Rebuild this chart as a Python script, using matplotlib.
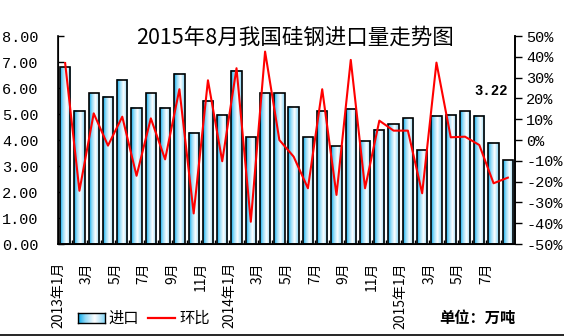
import numpy as np
import matplotlib
matplotlib.use("Agg")
import matplotlib.pyplot as plt
from matplotlib.colors import LinearSegmentedColormap
from matplotlib.lines import Line2D

plt.rcParams['font.family'] = ['Noto Sans CJK SC', 'DejaVu Sans']
plt.rcParams['axes.unicode_minus'] = False

months = ['2013年1月', '', '3月', '', '5月', '', '7月', '', '9月', '', '11月', '',
          '2014年1月', '', '3月', '', '5月', '', '7月', '', '9月', '', '11月', '',
          '2015年1月', '', '3月', '', '5月', '', '7月', '']
imports = [6.80, 5.12, 5.80, 5.66, 6.32, 5.24, 5.80, 5.24, 6.55, 4.28, 5.51, 4.97,
           6.66, 4.10, 5.80, 5.80, 5.28, 4.10, 5.10, 3.76, 5.21, 3.97, 4.40, 4.60,
           4.83, 3.60, 4.94, 4.98, 5.10, 4.94, 3.90, 3.22]
mom = [37.0, -24.4, 12.8, -2.7, 11.2, -17.2, 10.4, -9.3, 24.4, -35.3, 28.7, -10.2,
       34.5, -39.3, 42.5, 0.0, -8.0, -23.2, 24.4, -26.4, 38.5, -23.2, 9.3, 4.5,
       4.5, -25.6, 37.2, 1.3, 1.6, -2.4, -20.8, -18.1]

grad = LinearSegmentedColormap.from_list(
    'g', [(0, '#05a8ea'), (0.25, '#8fd8f6'), (0.6, '#ffffff'), (1.0, '#7ed2f5')])
gimg = np.linspace(0, 1, 64).reshape(1, -1)

fig = plt.figure(figsize=(5.64, 3.36), dpi=100)
ax = fig.add_axes([58/564, 1-244/336, 457/564, 208/336])
x = np.arange(len(imports))
w = 0.72

bars = ax.bar(x, imports, width=w, facecolor='none', edgecolor='black',
              linewidth=1.2, zorder=3)
for xi, h in zip(x, imports):
    ax.imshow(gimg, cmap=grad, extent=[xi - w/2, xi + w/2, 0, h],
              aspect='auto', zorder=2, interpolation='bilinear')

ax.set_xlim(-0.5, len(imports) - 0.5)
ax.set_ylim(0, 8)
ax.set_yticks(np.arange(0, 9, 1))
ax.set_yticklabels(['%.2f' % v for v in np.arange(0, 9, 1)],
                   family='Liberation Mono', fontsize=11)
ax.tick_params(axis='y', direction='in', length=4, pad=14, width=1)
ax.set_xticks(x - 0.5)
ax.set_xticklabels(months, rotation=90, fontsize=10)
ax.tick_params(axis='x', direction='in', length=3, pad=13, width=1)
ax.spines['top'].set_visible(False)
for s in ['left', 'right', 'bottom']:
    ax.spines[s].set_linewidth(1.2)

ax2 = ax.twinx()
ax2.plot(x, mom, color='#ff0000', linewidth=1.5, zorder=5)
ax2.set_ylim(-50, 50)
ax2.set_yticks(np.arange(-50, 51, 10))
ax2.set_yticklabels(['%d%%' % v for v in np.arange(-50, 51, 10)],
                    family='Liberation Mono', fontsize=11)
ax2.tick_params(axis='y', direction='out', length=5, pad=3, width=1)
ax2.spines['top'].set_visible(False)
ax2.spines['right'].set_linewidth(1.2)

fig.text(295/564, 1-38/336, '2015年8月我国硅钢进口量走势图', ha='center',
         va='center', fontsize=15.5)
fig.text(491/564, 1-91/336, '3.22', ha='center', va='center',
         fontsize=10, fontweight='bold', family='Liberation Mono')

# legend drawn by hand at the bottom
lx0, ly = 78/564, 1-318/336
legax = fig.add_axes([lx0, ly - 5/336, 27/564, 10/336])
legax.imshow(gimg, cmap=grad, aspect='auto')
legax.set_xticks([])
legax.set_yticks([])
for s in legax.spines.values():
    s.set_linewidth(1)
fig.text(108/564, ly, '进口', ha='left', va='center', fontsize=11)
fig.add_artist(Line2D([148/564, 175/564], [ly, ly], color='#ff0000',
                      linewidth=1.6, transform=fig.transFigure))
fig.text(179/564, ly, '环比', ha='left', va='center', fontsize=11)
fig.text(516/564, ly, '单位：万吨', ha='right', va='center', fontsize=11,
         fontweight='bold')
fig.add_artist(Line2D([0, 1], [0.6/336, 0.6/336], color='black', linewidth=1.2,
                      transform=fig.transFigure))

fig.savefig('out.png', dpi=100)
